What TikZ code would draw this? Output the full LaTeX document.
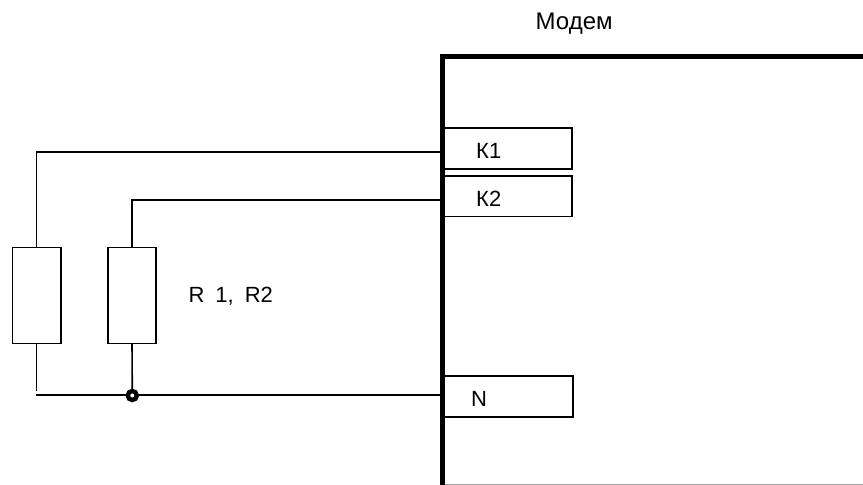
\documentclass[tikz,border=0pt]{standalone}
\usepackage{fontspec}
\setmainfont{Liberation Sans}
\definecolor{edgegray}{gray}{0.65}
\tikzset{
  wire/.style={line width=1.6pt,black},
  box/.style={draw=black,line width=1.6pt,fill=white,inner sep=0pt,outer sep=0pt,anchor=north west},
  txt/.style={font=\fontsize{22pt}{24pt}\selectfont,inner sep=0pt,text=black},
  ring/.style={circle,draw=black,fill=white,line width=4.4pt,inner sep=0pt,outer sep=0pt,minimum size=9pt}
}
\begin{document}
\begin{tikzpicture}[x=1pt,y=-1pt]
\useasboundingbox (0,0) rectangle (863,485);
\fill[white] (0,0) rectangle (863,485);
\node[box,minimum width=129pt,minimum height=40.5pt] (k1) at (443,128.2) {};
\node[box,minimum width=129pt,minimum height=40.5pt] (k2) at (443,176) {};
\node[box,minimum width=130pt,minimum height=41pt] (n) at (443,376) {};
\node[box,minimum width=48.5pt,minimum height=95.8pt] (r1) at (12.3,247.6) {};
\node[box,minimum width=48pt,minimum height=95.8pt] (r2) at (108,247.6) {};
\coordinate (nl) at (36,395);
\coordinate (lead) at (r1.south |- 0,391);
\draw[wire] (r1.north) |- (k1.west |- 0,152);
\draw[wire] (r2.north) |- (k2.west |- 0,200);
\draw[wire] (r1.south) -- (lead);
\draw[wire] (nl) -- (n.west |- nl);
\node[ring] (j) at (132.3,395.5) {};
\draw[wire] (r2.south) -- (j.north);
\draw[edgegray,line width=1pt] (442.7,484.4) -- (863,484.4);
\draw[line width=4.6pt,black] (863,56.7) -- (442.7,56.7) -- (442.7,485);
\node[txt,anchor=west] at (476,151) {К1};
\node[txt,anchor=west] at (476,198.5) {К2};
\node[txt,anchor=west] at (471,398.5) {N};
\node[txt,anchor=west] at (188.5,296) {R\hspace{10.7pt}1,\hspace{11.2pt}R2};
\node[txt,anchor=west,font=\fontsize{24pt}{26pt}\selectfont] at (535.5,24) {Модем};
\end{tikzpicture}
\end{document}
